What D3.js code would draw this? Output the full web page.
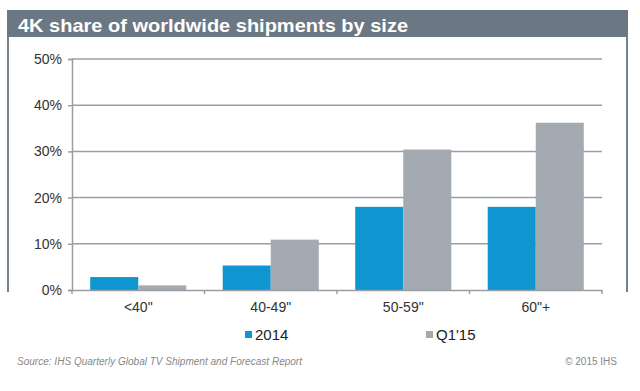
<!DOCTYPE html>
<html lang="en">
  <head>
    <meta charset="utf-8">
    <title>4K share</title>
    <style>
      body { margin: 0; background: #fff; }
      text { font-family: "Liberation Sans", Arial, sans-serif; }
    </style>
  </head>
  <body>
    <svg id="chart"></svg>

    <script src="https://d3js.org/d3.v7.min.js"></script>
    <script>
      // data
      const categories = ['<40"', '40-49"', '50-59"', '60"+'];
      const seriesNames = ['2014', "Q1'15"];
      const values2014 = [0.028, 0.053, 0.180, 0.180];
      const valuesQ115 = [0.010, 0.109, 0.304, 0.362];
      const yTicks = [0, 0.1, 0.2, 0.3, 0.4, 0.5];
      const colors = ['#0f95cf', '#a3aab1'];

      const W = 640, H = 391;
      const svg = d3.select('#chart').attr('width', W).attr('height', H);

      // frame + title bar
      svg.append('rect')
        .attr('x', 8).attr('y', 11).attr('width', 619).attr('height', 284)
        .attr('fill', 'none').attr('stroke', '#76828c').attr('stroke-width', 2);
      svg.append('rect')
        .attr('x', 7).attr('y', 10).attr('width', 621).attr('height', 27)
        .attr('fill', '#6b7884');
      svg.append('rect')
        .attr('x', 7).attr('y', 292).attr('width', 621).attr('height', 8)
        .attr('fill', '#fff');
      svg.append('text')
        .attr('x', 18).attr('y', 32)
        .attr('fill', '#fff').attr('font-size', 19).attr('font-weight', 'bold')
        .attr('textLength', 390).attr('lengthAdjust', 'spacingAndGlyphs')
        .text('4K share of worldwide shipments by size');

      const x = d3.scaleBand().domain(categories).range([72, 602])
        .paddingInner(0.275).paddingOuter(0.1375);
      const xs = d3.scaleBand().domain(seriesNames).range([0, x.bandwidth()]);
      const y = d3.scaleLinear().domain([0, 0.5]).range([290, 59]);

      // gridlines
      svg.append('g').selectAll('line').data(yTicks.slice(1)).join('line')
        .attr('x1', 72).attr('x2', 602)
        .attr('y1', d => y(d)).attr('y2', d => y(d))
        .attr('stroke', '#9a9ea3').attr('stroke-width', 1.5);

      // bars
      const rows = categories.map((c, i) => ({ cat: c, vals: [values2014[i], valuesQ115[i]] }));
      const groups = svg.append('g').selectAll('g').data(rows).join('g')
        .attr('transform', d => `translate(${x(d.cat)},0)`);
      groups.selectAll('rect')
        .data(d => d.vals.map((v, j) => ({ name: seriesNames[j], v: v, j: j })))
        .join('rect')
        .attr('x', d => xs(d.name))
        .attr('width', xs.bandwidth())
        .attr('y', d => y(d.v))
        .attr('height', d => y(0) - y(d.v))
        .attr('fill', d => colors[d.j]);

      // y axis
      const yAxis = svg.append('g').attr('transform', 'translate(72,0)')
        .call(d3.axisLeft(y).tickValues(yTicks).tickFormat(d3.format('.0%')).tickSize(4).tickPadding(6));
      yAxis.select('.domain').attr('stroke', '#9a9ea3').attr('stroke-width', 1.5);
      yAxis.selectAll('.tick line').attr('stroke', '#9a9ea3').attr('stroke-width', 1.5);
      yAxis.selectAll('text').attr('font-size', 14).attr('fill', '#333')
        .style('font-family', '"Liberation Sans", Arial, sans-serif');

      // x axis
      const xAxis = svg.append('g').attr('transform', 'translate(0,290)')
        .call(d3.axisBottom(x).tickSize(0).tickPadding(12));
      xAxis.select('.domain').attr('stroke', '#9a9ea3').attr('stroke-width', 1.5);
      xAxis.selectAll('text').attr('font-size', 14).attr('fill', '#333')
        .style('font-family', '"Liberation Sans", Arial, sans-serif');
      const bounds = [72].concat(categories.map(c => x(c) + x.bandwidth() + x.step() * x.paddingInner() / 2));
      svg.append('g').selectAll('line').data(bounds).join('line')
        .attr('x1', d => d).attr('x2', d => d).attr('y1', 290).attr('y2', 294)
        .attr('stroke', '#9a9ea3').attr('stroke-width', 1.5);

      // legend
      const legendX = [245, 426];
      const legend = svg.append('g').selectAll('g').data(seriesNames).join('g')
        .attr('transform', (d, i) => `translate(${legendX[i]},331)`);
      legend.append('rect').attr('width', 7).attr('height', 7)
        .attr('fill', (d, i) => colors[i]);
      legend.append('text').attr('x', 10).attr('y', 9)
        .attr('font-size', 15).attr('fill', '#222').text(d => d);

      // footer
      svg.append('text').attr('x', 17).attr('y', 365)
        .attr('font-size', 10).attr('font-style', 'italic').attr('fill', '#888')
        .attr('textLength', 285).attr('lengthAdjust', 'spacingAndGlyphs')
        .text('Source:  IHS Quarterly Global  TV Shipment  and Forecast Report');
      svg.append('text').attr('x', 617).attr('y', 365).attr('text-anchor', 'end')
        .attr('font-size', 10).attr('fill', '#888')
        .text('\u00a9 2015  IHS');
    </script>
  </body>
</html>
